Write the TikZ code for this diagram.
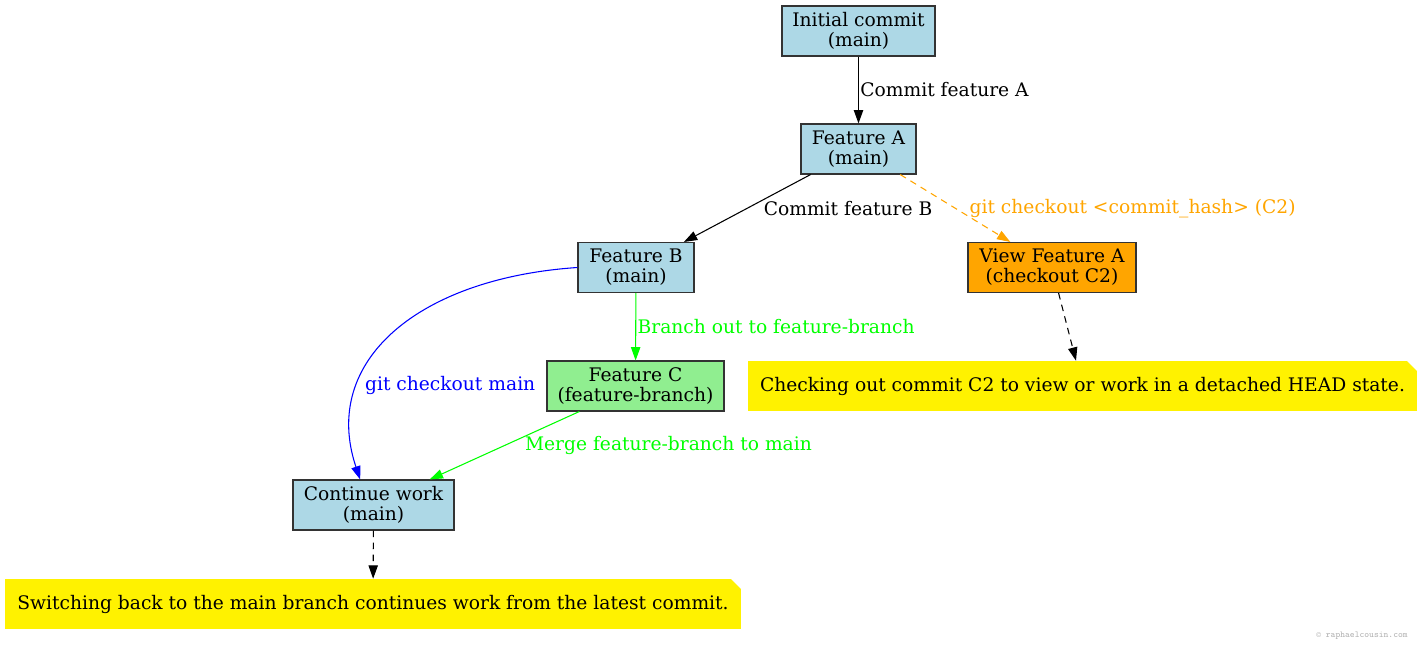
\documentclass[tikz,border=0pt]{standalone}
\usepackage{fontspec}
\setmainfont{DejaVu Serif}
\usetikzlibrary{arrows.meta}

\definecolor{gvblue}{RGB}{173,216,230}
\definecolor{gvgreen}{RGB}{144,238,144}
\definecolor{gvorange}{RGB}{255,165,0}
\definecolor{gvlime}{RGB}{0,255,0}

\begin{document}
\begin{tikzpicture}[x=0.75pt, y=-0.75pt,
    commit/.style={draw=black!80, line width=0.8pt, fill=gvblue, minimum height=37.5pt,
        inner sep=0pt, align=center, font=\fontsize{14}{15}\selectfont},
    note/.style={fill=yellow, minimum height=37.5pt, inner sep=0pt, font=\fontsize{14}{15}\selectfont,
        path picture={\fill[white] (path picture bounding box.north east) -- ++(-10,0) -- ++(10,10) -- cycle;}},
    edge/.style={line width=0.8pt, -{Triangle[length=10pt,width=7pt]}},
    lbl/.style={inner sep=1pt, font=\fontsize{14}{15}\selectfont}]
    \useasboundingbox (0,0) rectangle (1422,653);

    % commits
    \node[commit, minimum width=114.75pt] (init) at (858.5,31) {Initial commit\\(main)};
    \node[commit, minimum width=86.25pt] (featA) at (858.5,149) {Feature A\\(main)};
    \node[commit, minimum width=87pt] (featB) at (636,267.5) {Feature B\\(main)};
    \node[commit, fill=gvorange, minimum width=126pt] (viewA) at (1052,267.5) {View Feature A\\(checkout C2)};
    \node[commit, fill=gvgreen, minimum width=132.75pt] (featC) at (635.5,386) {Feature C\\(feature-branch)};
    \node[commit, minimum width=120.75pt] (cont) at (373.5,505) {Continue work\\(main)};

    % notes
    \node[note, minimum width=501.75pt] (note1) at (1082.5,386) {Checking out commit C2 to view or work in a detached HEAD state.};
    \node[note, minimum width=552pt] (note2) at (373,604) {Switching back to the main branch continues work from the latest commit.};

    \draw[edge] (init) -- (featA) node[lbl, midway, right] (lblA) {Commit feature A};
    \draw[edge] (featA) -- (featB) node[lbl, midway, anchor=west, xshift=11pt] (lblB) {Commit feature B};
    \draw[edge, gvorange, dash pattern=on 5pt off 4pt] (featA) -- (viewA)
        node[lbl, midway, anchor=west, xshift=9.4pt] (lblC2) {git checkout <commit\_hash> (C2)};
    \draw[edge, dash pattern=on 5pt off 4pt] (viewA) -- (note1);
    \draw[edge, gvlime] (featB) -- (featC) node[lbl, midway, right] (lblBr) {Branch out to feature-branch};
    \draw[edge, blue] (featB.west) .. controls (420,278) and (320,360) .. ([xshift=-10pt]cont.north)
        node[lbl, pos=0.71, anchor=west, xshift=3.5pt] (lblMain) {git checkout main};
    \draw[edge, gvlime] (featC) -- (cont) node[lbl, midway, anchor=west, xshift=14pt] (lblMerge) {Merge feature-branch to main};
    \draw[edge, dash pattern=on 5pt off 4pt] (cont) -- (note2); % down to the note

    \node[text=black!30, font=\ttfamily\fontsize{6.8}{8}\selectfont] (wm) at (1362,636) {© raphaelcousin.com};
\end{tikzpicture}
\end{document}
